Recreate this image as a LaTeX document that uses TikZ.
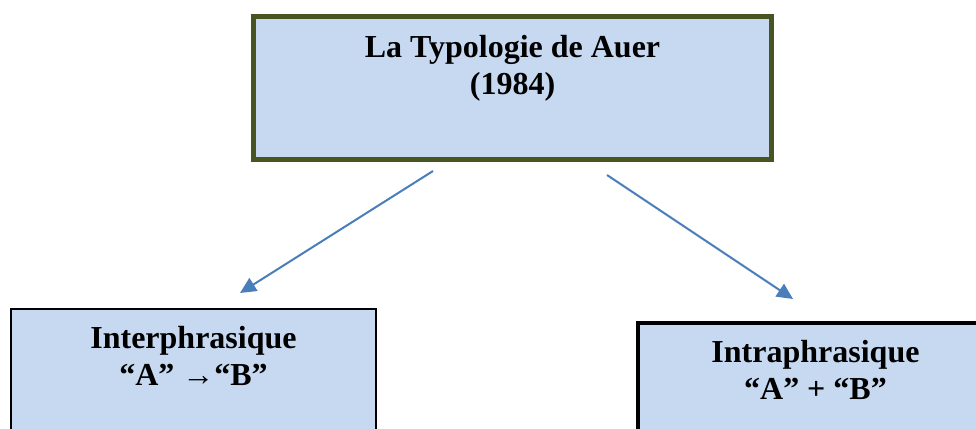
\documentclass[tikz,border=0pt]{standalone}
\usepackage{fontspec}
\setmainfont{Liberation Serif}
\usetikzlibrary{positioning}
\usetikzlibrary{arrows.meta}
\definecolor{boxfill}{RGB}{198,217,241}
\definecolor{auerolive}{RGB}{73,84,35}
\definecolor{linkblue}{RGB}{74,126,187}

\begin{document}
\begin{tikzpicture}
		[x=1pt, y=1pt,
		 box/.style={rectangle, draw=black, fill=boxfill, inner sep=0pt},
		 boxtext/.style={inner sep=0pt, align=center, font=\fontsize{32}{37}\selectfont\bfseries},
		 link/.style={draw=linkblue, line width=2pt, -{Triangle[length=16pt, width=15pt]}}]
		\useasboundingbox (0,0) rectangle (976,428);

		\node[box, draw=auerolive, line width=5pt, minimum width=518pt, minimum height=143pt] (auer) at (512.5,340) {};
		\node[box, line width=2pt, minimum width=365pt, minimum height=131pt] (inter) at (193.5,53.5) {};
		\node[box, line width=4.5pt, minimum width=355pt, minimum height=117pt] (intra) at (815.5,46.5) {};

		\node[boxtext, below=21.5pt of auer.north] (auertext) {La Typologie de Auer\\(1984)};
		\node[boxtext, below=17.7pt of inter.north] (intertext) {Interphrasique\\“A” →“B”};
		\node[boxtext, below=19.4pt of intra.north] (intratext) {Intraphrasique\\“A” + “B”};

		\coordinate (interfrom) at (433,257);
		\coordinate (interto) at (240,135);
		\coordinate (intrafrom) at (607,253);
		\coordinate (intrato) at (793,129);

		\draw[link] (interfrom) -- (interto);
		\draw[link] (intrafrom) -- (intrato);
	\end{tikzpicture}
\end{document}
